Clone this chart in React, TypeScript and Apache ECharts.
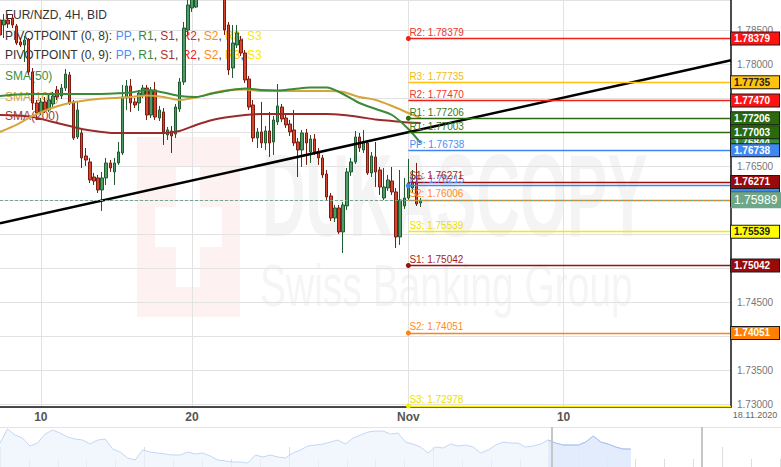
import React, { useEffect, useRef } from "react";
import * as echarts from "echarts";

// ---------- axis / categories ----------
const slotCount = 180; // 4H slots incl. blank future area
const xTickIndex = [10, 47, 100, 138];
const xTickLabels = ["10", "20", "Nov", "10"];
const lastDateLabel = "18.11.2020";
const yMin = 1.72962;
const yMax = 1.78946;

// ---------- candles (EUR/NZD 4H) ----------
const opens = [1.78652,1.78579,1.78652,1.78681,1.78564,1.78329,1.78285,1.78358,1.77888,1.77432,1.773,1.77447,1.77329,1.77417,1.77623,1.77535,1.77652,1.77844,1.77447,1.76932,1.76991,1.76653,1.76565,1.76344,1.7633,1.76153,1.7633,1.7655,1.76418,1.7655,1.76697,1.77505,1.77682,1.77447,1.77432,1.7755,1.77652,1.77255,1.77623,1.77211,1.773,1.76962,1.77021,1.76976,1.77343,1.77741,1.78505,1.78828,1.78843,1.7924,1.79534,1.79387,1.79608,1.79314,1.79093,1.7902,1.78579,1.77946,1.78285,1.78358,1.78167,1.77785,1.77403,1.76917,1.77006,1.76844,1.77021,1.76859,1.77153,1.77373,1.77211,1.77123,1.77036,1.76859,1.76741,1.76991,1.76712,1.76903,1.76712,1.76624,1.76388,1.76065,1.75741,1.75888,1.75536,1.75918,1.76418,1.76565,1.76932,1.76741,1.76844,1.76403,1.76638,1.76447,1.76035,1.76182,1.76285,1.76124,1.75462,1.75918,1.76035,1.76182,1.76271,1.75962];
const closes = [1.78432,1.78652,1.78593,1.78579,1.78314,1.78285,1.78358,1.77888,1.77432,1.77285,1.77447,1.77329,1.77476,1.77535,1.7752,1.77652,1.77858,1.77432,1.76917,1.77329,1.76624,1.76594,1.763,1.76285,1.76153,1.7633,1.7655,1.76476,1.7655,1.76712,1.7752,1.77682,1.77432,1.77403,1.77579,1.77652,1.77255,1.77623,1.77226,1.77329,1.77006,1.77036,1.76947,1.77373,1.77741,1.78534,1.78873,1.79167,1.7924,1.79534,1.79387,1.79608,1.79314,1.79093,1.7902,1.78505,1.77917,1.78314,1.78461,1.78167,1.7777,1.77373,1.76917,1.77006,1.76844,1.77021,1.76844,1.77182,1.77388,1.77197,1.77109,1.77006,1.76844,1.76741,1.76991,1.76844,1.76903,1.76712,1.76624,1.76374,1.7605,1.75741,1.75888,1.75536,1.75932,1.76418,1.76565,1.76932,1.7677,1.76859,1.76403,1.76653,1.76418,1.76197,1.76197,1.763,1.76124,1.75462,1.76006,1.76035,1.76256,1.76271,1.75947,1.75989];
const lows = [1.78329,1.78387,1.78534,1.78534,1.78285,1.78255,1.78035,1.77844,1.77329,1.77182,1.77255,1.77285,1.773,1.77358,1.77476,1.77491,1.77609,1.77403,1.76888,1.76903,1.76476,1.76506,1.76256,1.76227,1.76109,1.75844,1.76227,1.76418,1.76227,1.76521,1.76668,1.77329,1.773,1.77358,1.77314,1.77505,1.77182,1.77211,1.77182,1.77167,1.76815,1.76888,1.76697,1.76917,1.773,1.77697,1.78432,1.7877,1.78828,1.79093,1.7924,1.7924,1.79167,1.7899,1.78975,1.78432,1.77844,1.778,1.7824,1.78123,1.77726,1.77329,1.76859,1.7677,1.7677,1.76741,1.76638,1.76668,1.77109,1.77153,1.77065,1.76947,1.768,1.76344,1.76491,1.76521,1.7655,1.76668,1.76521,1.7633,1.76006,1.75697,1.75682,1.75506,1.75227,1.75859,1.76359,1.76535,1.76712,1.76697,1.76374,1.76344,1.76197,1.7608,1.76006,1.76138,1.7608,1.753,1.75345,1.75874,1.76006,1.76109,1.75918,1.75903];
const highs = [1.78799,1.7874,1.78726,1.7874,1.78593,1.78387,1.78417,1.78387,1.77946,1.77476,1.77505,1.7752,1.77564,1.77594,1.77682,1.77711,1.77932,1.77888,1.77476,1.77447,1.77065,1.7677,1.76624,1.76403,1.76374,1.76418,1.76624,1.76594,1.76624,1.76859,1.77697,1.7777,1.77785,1.77505,1.77623,1.77697,1.77697,1.77667,1.77741,1.77388,1.77358,1.77079,1.77094,1.77417,1.778,1.78623,1.7902,1.79314,1.79387,1.79681,1.79755,1.79755,1.79755,1.79461,1.7924,1.79167,1.78623,1.78579,1.78579,1.78417,1.78211,1.77829,1.77476,1.77065,1.77447,1.77094,1.773,1.77241,1.77711,1.77417,1.7727,1.77182,1.77329,1.76917,1.77036,1.7705,1.76962,1.76976,1.7677,1.76668,1.76447,1.76109,1.75932,1.75932,1.75977,1.76476,1.76624,1.77021,1.76991,1.77036,1.76888,1.76712,1.76859,1.76491,1.76476,1.76374,1.76491,1.76182,1.76447,1.7633,1.76609,1.76447,1.7655,1.76035];

// ---------- moving averages (read at every 4th candle) ----------
const smaIndex = [0,4,8,12,16,20,24,28,32,36,40,44,48,52,56,60,64,68,72,76,80,84,88,92,96,100,103];
const sma50 = [1.77535,1.77557,1.77564,1.77564,1.77564,1.77564,1.77564,1.77572,1.77586,1.77623,1.77586,1.77535,1.7752,1.77572,1.77616,1.77645,1.77623,1.77616,1.77638,1.7766,1.7766,1.77564,1.77432,1.77343,1.77255,1.7705,1.76844];
const sma100 = [1.77006,1.77109,1.77241,1.77343,1.77417,1.77461,1.77491,1.77505,1.7752,1.77542,1.7752,1.77476,1.77513,1.77579,1.77623,1.7763,1.77609,1.77609,1.77609,1.77609,1.77609,1.77594,1.7752,1.77476,1.77388,1.77285,1.77211];
const sma200 = [1.77255,1.77248,1.77226,1.77167,1.77109,1.7705,1.77013,1.76991,1.76991,1.76991,1.76991,1.77021,1.77109,1.77182,1.77226,1.77255,1.7727,1.7727,1.7727,1.7727,1.7727,1.77255,1.77226,1.77189,1.77167,1.77145,1.77138];
const sma50Last = 1.76844;

// ---------- trend line, last price, pivots ----------
const trendStart = [0, 1.75663];
const trendEnd = [179, 1.7806];
const lastPrice = 1.75989;
const pivotStartIndex = 100;
const pivot8Names = ["R2", "R1", "PP", "S1", "S2", "S3"];
const pivot8Values = [1.78379, 1.77206, 1.76215, 1.75042, 1.74051, 1.72978];
const pivot9Names = ["R3", "R2", "R1", "PP", "S1", "S2", "S3"];
const pivot9Values = [1.77735, 1.7747, 1.77003, 1.76738, 1.76271, 1.76006, 1.75539];

// ---------- navigator overview ----------
const navValues = [1.78208,1.82996,1.80944,1.79918,1.77182,1.78208,1.81286,1.82654,1.81628,1.8026,1.79576,1.79234,1.77866,1.79234,1.79576,1.76156,1.7513,1.73078,1.72394,1.75814,1.7513,1.74788,1.74446,1.74104,1.74104,1.7513,1.74446,1.74788,1.73762,1.72394,1.72052,1.7171,1.7171,1.71368,1.74104,1.7342,1.74104,1.7342,1.73078,1.74788,1.75814,1.77182,1.77524,1.77866,1.7855,1.79234,1.77866,1.79918,1.80944,1.8197,1.82312,1.82312,1.81286,1.81628,1.7855,1.77866,1.7684,1.74788,1.7684,1.76498,1.77866,1.77182,1.77524,1.7684,1.74788,1.75814,1.77524,1.7855,1.78208,1.78208,1.7684,1.77182,1.77866,1.79234,1.78208,1.77524,1.77524,1.77524,1.7855,1.80602,1.7855,1.77866,1.7684,1.76156,1.76156];
const navWindowStart = 73;

// ---------- styles ----------
const lineColor: Record<string, string> = { PP: "#3d85f2", R1: "#2c6b10", S1: "#9c1010", R2: "#f41d18", S2: "#ff8414", R3: "#ffc10c", S3: "#f4ec00" };
const textColor: Record<string, string> = { PP: "#4b8ef3", R1: "#3a7a22", S1: "#a42222", R2: "#f0352c", S2: "#ff8c1e", R3: "#f2ba10", S3: "#ece000" };
const boxBg: Record<string, string> = { PP: "#3f87f3", R1: "#2a6a0c", S1: "#990a0a", R2: "#ff1212", S2: "#ff8000", R3: "#ffc20e", S3: "#ffff00" };
const boxFg: Record<string, string> = { PP: "#fff", R1: "#fff", S1: "#fff", R2: "#fff", S2: "#fff", R3: "#222", S3: "#222" };

export default function App() {
  const ref = useRef<HTMLDivElement>(null);
  useEffect(() => {
    if (!ref.current) return;
    const chart = echarts.init(ref.current, null, { renderer: "svg" });

    const categories = Array.from({ length: slotCount }, (_, i) => String(i));
    const labelMap: Record<number, string> = {};
    xTickIndex.forEach((idx, k) => (labelMap[idx] = xTickLabels[k]));
    const isTick = (i: number) => labelMap[i] !== undefined;

    const candleData = opens.map((o, i) => [o, closes[i], lows[i], highs[i]]);
    const smaPairs = (vals: number[]) => smaIndex.map((idx, k) => [idx, vals[k]]);

    const pivots = [
      ...pivot8Names.map((n, k) => ({ n, v: pivot8Values[k], dot: true })),
      ...pivot9Names.map((n, k) => ({ n, v: pivot9Values[k], dot: false })),
    ];

    const pivotLineData = pivots.map((p) => [
      {
        coord: [pivotStartIndex, p.v],
        symbol: p.dot ? "circle" : "none",
        symbolSize: 5,
        itemStyle: { color: lineColor[p.n] },
        lineStyle: { color: lineColor[p.n], width: 1.3, type: "solid" },
        label: {
          show: true,
          position: "insideStartTop",
          distance: 1,
          formatter: `${p.n}: ${p.v.toFixed(5)}`,
          color: textColor[p.n],
          fontSize: 10,
        },
      },
      { coord: [slotCount - 1, p.v], symbol: "none" },
    ]);

    const find = (set: string[], vals: number[], n: string) => vals[set.indexOf(n)];
    const boxes: { v: number; bg: string; fg: string }[] = [
      { v: sma50Last, bg: "#3a8a3a", fg: "#fff" },
      { v: find(pivot8Names, pivot8Values, "PP"), bg: boxBg.PP, fg: boxFg.PP },
      { v: find(pivot9Names, pivot9Values, "S2"), bg: boxBg.S2, fg: boxFg.S2 },
      { v: find(pivot8Names, pivot8Values, "R2"), bg: boxBg.R2, fg: boxFg.R2 },
      { v: find(pivot9Names, pivot9Values, "R3"), bg: boxBg.R3, fg: boxFg.R3 },
      { v: find(pivot9Names, pivot9Values, "R2"), bg: boxBg.R2, fg: boxFg.R2 },
      { v: find(pivot8Names, pivot8Values, "R1"), bg: boxBg.R1, fg: boxFg.R1 },
      { v: find(pivot9Names, pivot9Values, "R1"), bg: boxBg.R1, fg: boxFg.R1 },
      { v: find(pivot9Names, pivot9Values, "PP"), bg: boxBg.PP, fg: boxFg.PP },
      { v: find(pivot9Names, pivot9Values, "S1"), bg: boxBg.S1, fg: boxFg.S1 },
      { v: find(pivot9Names, pivot9Values, "S3"), bg: boxBg.S3, fg: boxFg.S3 },
      { v: find(pivot8Names, pivot8Values, "S1"), bg: boxBg.S1, fg: boxFg.S1 },
      { v: find(pivot8Names, pivot8Values, "S2"), bg: boxBg.S2, fg: boxFg.S2 },
    ];
    const boxData = boxes.map((b) => [
      {
        coord: [slotCount - 2, b.v],
        lineStyle: { color: "rgba(0,0,0,0)", width: 1 },
        label: {
          show: true,
          position: "end",
          distance: 0,
          formatter: b.v.toFixed(5),
          backgroundColor: b.bg,
          color: b.fg,
          fontWeight: "bold",
          borderColor: "#1c1c1c",
          borderWidth: 1,
          padding: [1, 3, 0, 3],
          width: 42,
          fontSize: 10,
          lineHeight: 11,
        },
      },
      { coord: [slotCount - 1, b.v] },
    ]);

    const legendRich = {
      t: { fill: "#333", fontSize: 12, fontFamily: "Arial" },
      pp: { fill: "#4d8ff7", fontSize: 12, fontFamily: "Arial" },
      r1: { fill: "#3c8a32", fontSize: 12, fontFamily: "Arial" },
      s1: { fill: "#b02e2e", fontSize: 12, fontFamily: "Arial" },
      r2: { fill: "#f02020", fontSize: 12, fontFamily: "Arial" },
      s2: { fill: "#ff8c20", fontSize: 12, fontFamily: "Arial" },
      r3: { fill: "#ffc000", fontSize: 12, fontFamily: "Arial" },
      s3: { fill: "#f8ea00", fontSize: 12, fontFamily: "Arial" },
    };
    const pivotLegend = (k: string) =>
      `{t|PIVOTPOINT (0, ${k}): }{pp|PP}{t|, }{r1|R1}{t|, }{s1|S1}{t|, }{r2|R2}{t|, }{s2|S2}{t|, }{r3|R3}{t|, }{s3|S3}`;

    const txt = (x: number, y: number, text: string, fill: string, extra: any = {}) => ({
      type: "text",
      x,
      y,
      z: 1,
      silent: true,
      style: { text, fill, fontSize: 12, fontFamily: "Arial", verticalAlign: "middle", ...extra },
    });

    const option: any = {
      animation: false,
      backgroundColor: "#fff",
      textStyle: { fontFamily: "Arial" },
      grid: [
        { left: 0, right: 50, top: 0, height: 407 },
        { left: 0, right: 0, top: 427, height: 40 },
      ],
      xAxis: [
        {
          type: "category",
          gridIndex: 0,
          data: categories,
          boundaryGap: false,
          axisLine: { show: true, lineStyle: { color: "#111", width: 1.5 } },
          axisTick: { show: false },
          axisLabel: {
            interval: (i: number) => isTick(i),
            formatter: (_v: string, i: number) => labelMap[i] ?? "",
            color: "#555",
            fontWeight: "bold",
            fontSize: 12,
            margin: 4,
          },
          splitLine: { show: true, interval: (i: number) => isTick(i), lineStyle: { color: "#e2e2e2" } },
        },
        {
          type: "value",
          gridIndex: 1,
          min: 0,
          max: 104,
          interval: 19.24,
          axisLine: { show: false },
          axisLabel: { show: false },
          splitLine: { show: false },
          axisTick: { show: true, inside: true, length: 20, lineStyle: { color: "#dedede" } },
          minorTick: { show: true, splitNumber: 5, length: 8, lineStyle: { color: "#dedede" } },
        },
      ],
      yAxis: [
        {
          type: "value",
          gridIndex: 0,
          position: "right",
          min: yMin,
          max: yMax,
          splitNumber: 12,
          minInterval: 0.005,
          maxInterval: 0.005,
          axisLine: { show: true, lineStyle: { color: "#111", width: 1.5 } },
          axisTick: { show: false },
          axisLabel: {
            formatter: (v: number) => v.toFixed(5),
            color: "#777",
            fontSize: 10,
            margin: 6,
            showMinLabel: false,
            showMaxLabel: false,
          },
          splitLine: { show: true, lineStyle: { color: "#e2e2e2" } },
        },
        { type: "value", gridIndex: 1, min: 1.7, max: 1.837, show: false },
      ],
      graphic: [
        // watermark
        { type: "rect", z: -1, silent: true, shape: { x: 137, y: 137, width: 103, height: 180 }, style: { fill: "#fdf1f1" } },
        { type: "rect", z: -1, silent: true, shape: { x: 176, y: 167, width: 24, height: 120 }, style: { fill: "#ffffff" } },
        { type: "rect", z: -1, silent: true, shape: { x: 155, y: 207, width: 67, height: 40 }, style: { fill: "#ffffff" } },
        {
          type: "text", z: -1, silent: true, x: 262, y: 196, scaleX: 0.52, scaleY: 1,
          style: { text: "DUKASCOPY", fill: "#f4f4f4", fontSize: 116, fontWeight: "bold", fontFamily: "Arial", verticalAlign: "middle" },
        },
        {
          type: "text", z: -1, silent: true, x: 260, y: 285, scaleX: 0.65, scaleY: 1,
          style: { text: "Swiss Banking Group", fill: "#f5f5f5", fontSize: 60, fontFamily: "Arial", verticalAlign: "middle" },
        },
        // legend
        txt(5, 15, "EUR/NZD, 4H, BID", "#333"),
        { type: "text", x: 5, y: 36, z: 1, silent: true, style: { text: pivotLegend("8"), rich: legendRich, fontSize: 12, fontFamily: "Arial", verticalAlign: "middle" } },
        { type: "text", x: 5, y: 55, z: 1, silent: true, style: { text: pivotLegend("9"), rich: legendRich, fontSize: 12, fontFamily: "Arial", verticalAlign: "middle" } },
        txt(5, 76, "SMA(50)", "#3a8f3f"),
        txt(5, 96.5, "SMA(100)", "#d6a43a"),
        txt(5, 116, "SMA(200)", "#a33a3a"),
        // date label
        { type: "text", x: 755, y: 415, z: 5, silent: true, style: { text: lastDateLabel, fill: "#666", fontSize: 9, fontFamily: "Arial", align: "center", verticalAlign: "middle" } },
        // navigator frame
        { type: "rect", z: 5, silent: true, shape: { x: 0, y: 427, width: 781, height: 1 }, style: { fill: "#e4e4e4" } },
        { type: "rect", z: 5, silent: true, shape: { x: 551, y: 427, width: 2, height: 40 }, style: { fill: "#c6c6c6" } },
        { type: "rect", z: 5, silent: true, shape: { x: 701, y: 427, width: 2, height: 40 }, style: { fill: "#c6c6c6" } },
      ],
      series: [
        {
          type: "candlestick",
          xAxisIndex: 0,
          yAxisIndex: 0,
          data: candleData,
          barWidth: 3,
          itemStyle: {
            color: "#4f9c66",
            color0: "#d6442c",
            borderColor: "#1f5a30",
            borderColor0: "#7a1c12",
            borderWidth: 1,
          },
        },
        { type: "line", data: smaPairs(sma200), smooth: 0.3, symbol: "none", lineStyle: { color: "#9b2b2b", width: 2 } },
        { type: "line", data: smaPairs(sma100), smooth: 0.3, symbol: "none", lineStyle: { color: "#d6a53a", width: 2 } },
        { type: "line", data: smaPairs(sma50), smooth: 0.3, symbol: "none", lineStyle: { color: "#3a8a3a", width: 2 } },
        {
          type: "line",
          data: [],
          markLine: {
            silent: true,
            animation: false,
            symbol: ["none", "none"],
            label: { show: false },
            lineStyle: { color: "#000", width: 2.5, type: "solid" },
            data: [[{ coord: trendStart }, { coord: trendEnd }]],
          },
        },
        {
          type: "line",
          data: [],
          markLine: { silent: true, animation: false, symbol: ["none", "none"], data: pivotLineData },
        },
        {
          type: "line",
          data: [],
          markLine: { silent: true, animation: false, symbol: ["none", "none"], data: boxData },
        },
        {
          type: "line",
          data: [],
          markLine: {
            silent: true,
            animation: false,
            symbol: ["none", "none"],
            lineStyle: { color: "#76a48a", width: 1, type: [3, 2] },
            label: {
              show: true,
              position: "end",
              distance: 0,
              formatter: lastPrice.toFixed(5),
              backgroundColor: "#6ea788",
              color: "#fff",
              fontSize: 12,
              lineHeight: 14,
              padding: [1, 3, 1, 3],
              width: 44,
            },
            data: [{ yAxis: lastPrice }],
          },
        },
        {
          type: "line",
          xAxisIndex: 1,
          yAxisIndex: 1,
          data: navValues.map((v, i) => [i, v]),
          symbol: "none",
          lineStyle: { color: "#c3d6f5", width: 1 },
          areaStyle: { color: "#edf3fd", origin: "start" },
        },
        {
          type: "line",
          xAxisIndex: 1,
          yAxisIndex: 1,
          data: navValues.map((v, i) => [i, v]).slice(navWindowStart),
          symbol: "none",
          lineStyle: { color: "#a8c2ef", width: 1 },
          areaStyle: { color: "#dce7fb", origin: "start" },
        },
      ],
    };

    chart.setOption(option);
    return () => chart.dispose();
  }, []);

  return (
    <div
      ref={ref}
      style={{ position: "fixed", left: 0, top: 0, width: 781, height: 467, background: "#fff" }}
    />
  );
}
